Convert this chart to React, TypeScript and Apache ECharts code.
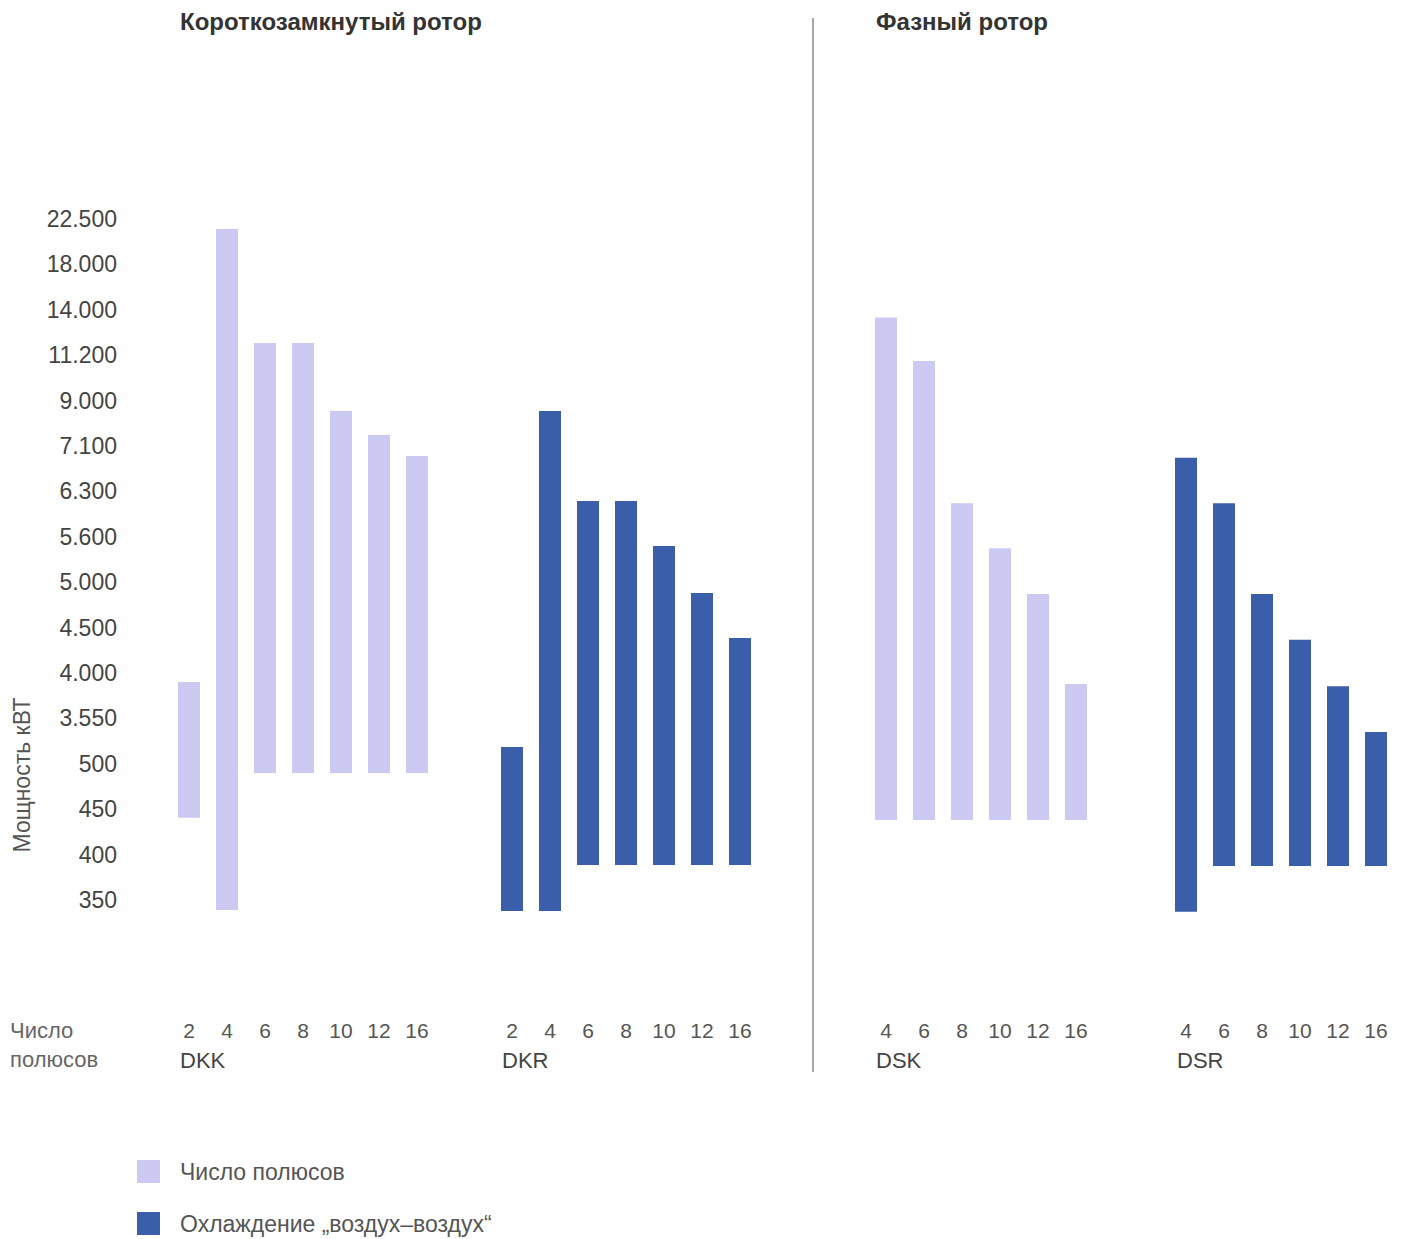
import React, { useEffect, useRef } from "react";
import * as echarts from "echarts";

// Y axis: ordinal power scale (kW), one level per label, bottom to top
const Y_LABELS = ["350", "400", "450", "500", "3.550", "4.000", "4.500", "5.000", "5.600", "6.300", "7.100", "9.000", "11.200", "14.000", "18.000", "22.500"];

// Groups: pole counts and bar ranges (in Y_LABELS level units)
const DKK_POLES = ["2", "4", "6", "8", "10", "12", "16"];
const DKK_LOW = [1.81, -0.22, 2.8, 2.8, 2.8, 2.8, 2.8];
const DKK_HIGH = [4.8, 14.78, 12.27, 12.27, 10.77, 10.24, 9.78];

const DKR_POLES = ["2", "4", "6", "8", "10", "12", "16"];
const DKR_LOW = [-0.24, -0.24, 0.77, 0.77, 0.77, 0.77, 0.77];
const DKR_HIGH = [3.37, 10.77, 8.79, 8.79, 7.8, 6.76, 5.77];

const DSK_POLES = ["4", "6", "8", "10", "12", "16"];
const DSK_LOW = [1.76, 1.76, 1.76, 1.76, 1.76, 1.76];
const DSK_HIGH = [12.83, 11.87, 8.74, 7.75, 6.74, 4.76];

const DSR_POLES = ["4", "6", "8", "10", "12", "16"];
const DSR_LOW = [-0.26, 0.75, 0.75, 0.75, 0.75, 0.75];
const DSR_HIGH = [9.74, 8.74, 6.74, 5.73, 4.71, 3.7];

const GROUP_NAMES = ["DKK", "DKR", "DSK", "DSR"];
const SERIES_LIGHT = "Число полюсов";
const SERIES_DARK = "Охлаждение „воздух–воздух\u201C";
const TITLE_LEFT = "Короткозамкнутый ротор";
const TITLE_RIGHT = "Фазный ротор";
const Y_NAME = "Мощность кВТ";

const LIGHT = "#cccaf3";
const DARK = "#3a5ea9";
const FONT = "'Liberation Sans', Arial, Helvetica, sans-serif";

export default function App() {
  const ref = useRef<HTMLDivElement>(null);
  useEffect(() => {
    document.body.style.margin = "0";
    const chart = echarts.init(ref.current!, null, { renderer: "svg" });

    const groups = [
      { poles: DKK_POLES, low: DKK_LOW, high: DKK_HIGH, name: SERIES_LIGHT, color: LIGHT, left: 170 },
      { poles: DKR_POLES, low: DKR_LOW, high: DKR_HIGH, name: SERIES_DARK, color: DARK, left: 493 },
      { poles: DSK_POLES, low: DSK_LOW, high: DSK_HIGH, name: SERIES_LIGHT, color: LIGHT, left: 867 },
      { poles: DSR_POLES, low: DSR_LOW, high: DSR_HIGH, name: SERIES_DARK, color: DARK, left: 1167 },
    ];
    const slot = 38;
    const yMin = -2;
    const yMax = 18;
    const gridTop = 82.8;
    const gridHeight = 908;

    const grid = groups.map((g) => ({
      left: g.left,
      top: gridTop,
      width: g.poles.length * slot,
      height: gridHeight,
      containLabel: false,
    }));

    const xAxis = groups.map((g, i) => ({
      type: "category",
      gridIndex: i,
      data: g.poles,
      axisLine: { show: false },
      axisTick: { show: false },
      axisLabel: { interval: 0, margin: 29, fontSize: 21, color: "#555", fontFamily: FONT },
      splitLine: { show: false },
    }));

    const yAxis = groups.map((g, i) => ({
      type: "value",
      gridIndex: i,
      min: yMin,
      max: yMax,
      interval: 1,
      axisLine: { show: false },
      axisTick: { show: false },
      splitLine: { show: false },
      axisLabel: {
        show: i === 0,
        margin: 53,
        fontSize: 23,
        color: "#444",
        fontFamily: FONT,
        formatter: (v: number) => {
          const k = Math.round(v);
          return k >= 0 && k < Y_LABELS.length ? Y_LABELS[k] : "";
        },
      },
    }));

    const series = groups.map((g, i) => ({
      type: "custom",
      name: g.name,
      xAxisIndex: i,
      yAxisIndex: i,
      itemStyle: { color: g.color },
      encode: { x: 0, y: [1, 2] },
      data: g.poles.map((_, j) => [j, g.low[j], g.high[j]]),
      renderItem: (params: any, api: any) => {
        const x = api.value(0);
        const lo = api.coord([x, api.value(1)]);
        const hi = api.coord([x, api.value(2)]);
        const w = 22;
        return {
          type: "rect",
          shape: { x: lo[0] - w / 2, y: hi[1], width: w, height: lo[1] - hi[1] },
          style: { fill: g.color },
        };
      },
    }));

    const graphic: any[] = [
      {
        type: "text",
        left: 180,
        top: 9,
        style: { text: TITLE_LEFT, fill: "#333", font: `bold 24px ${FONT}` },
      },
      {
        type: "text",
        left: 876,
        top: 9,
        style: { text: TITLE_RIGHT, fill: "#333", font: `bold 24px ${FONT}` },
      },
      {
        type: "line",
        shape: { x1: 813, y1: 18, x2: 813, y2: 1072 },
        style: { stroke: "#8a8a8a", lineWidth: 1.5 },
      },
      {
        type: "text",
        x: 22,
        y: 775,
        rotation: Math.PI / 2,
        style: { text: Y_NAME, fill: "#555", align: "center", verticalAlign: "middle", font: `23px ${FONT}` },
      },
      {
        type: "text",
        x: 10,
        y: 1030,
        style: { text: "Число", fill: "#666", verticalAlign: "middle", font: `22px ${FONT}` },
      },
      {
        type: "text",
        x: 10,
        y: 1059,
        style: { text: "полюсов", fill: "#666", verticalAlign: "middle", font: `22px ${FONT}` },
      },
    ];
    const nameX = [180, 502, 876, 1177];
    GROUP_NAMES.forEach((n, i) => {
      graphic.push({
        type: "text",
        x: nameX[i],
        y: 1060,
        style: { text: n, fill: "#444", verticalAlign: "middle", font: `22px ${FONT}` },
      });
    });

    chart.setOption({
      animation: false,
      backgroundColor: "#ffffff",
      textStyle: { fontFamily: FONT },
      grid,
      xAxis,
      yAxis,
      series,
      legend: {
        orient: "vertical",
        left: 137,
        top: 1160,
        padding: 0,
        itemWidth: 23,
        itemHeight: 23,
        itemGap: 29,
        icon: "rect",
        data: [
          { name: SERIES_LIGHT, itemStyle: { color: LIGHT } },
          { name: SERIES_DARK, itemStyle: { color: DARK } },
        ],
        textStyle: { fontSize: 23, color: "#555", fontFamily: FONT, padding: [0, 0, 0, 15] },
      },
      graphic,
    });
    return () => chart.dispose();
  }, []);
  return <div ref={ref} style={{ width: 1406, height: 1239 }} />;
}
